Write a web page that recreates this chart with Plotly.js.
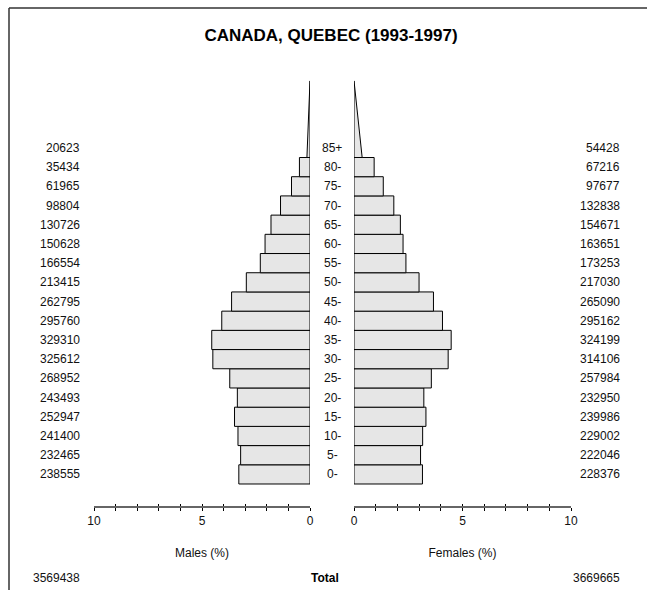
<!DOCTYPE html>
<html>
<head>
<meta charset="utf-8">
<script src="https://cdn.plot.ly/plotly-3.0.1.min.js"></script>
<style>html,body{margin:0;padding:0;background:#fff;}#chart{width:647px;height:590px;}</style>
</head>
<body>
<div id="chart"></div>
<script>
// ---- Data ----
var ageLabels = ['0-','5-','10-','15-','20-','25-','30-','35-','40-','45-','50-','55-','60-','65-','70-','75-','80-','85+'];
var ageStart  = [0,5,10,15,20,25,30,35,40,45,50,55,60,65,70,75,80,85];
var maleCounts   = [238555,232465,241400,252947,243493,268952,325612,329310,295760,262795,213415,166554,150628,130726,98804,61965,35434,20623];
var femaleCounts = [228376,222046,229002,239986,232950,257984,314106,324199,295162,265090,217030,173253,163651,154671,132838,97677,67216,54428];
var maleTotal = 3569438;
var femaleTotal = 3669665;
var chartTitle = 'CANADA, QUEBEC (1993-1997)';
var openAgeTop = 105;

// ---- Derived ----
var grand = maleTotal + femaleTotal;
var malePct = maleCounts.map(function(v){return v/grand*100;});
var femalePct = femaleCounts.map(function(v){return v/grand*100;});
var n = ageLabels.length;
var barY = ageStart.slice(0, n-1).map(function(a){return a+2.5;});
var W = 647, H = 590;
function px(x){return x/W;}
function py(y){return 1 - y/H;}

var FONT = 'Liberation Sans, Arial, Helvetica, sans-serif';
var barStyle = {color:'#e6e6e6', line:{color:'#000', width:1}};

var last = n-1;
var traces = [
  {type:'bar', orientation:'h', x: malePct.slice(0,last), y: barY, width:5,
   xaxis:'x', yaxis:'y', marker: barStyle, hoverinfo:'x+y', showlegend:false},
  {type:'bar', orientation:'h', x: femalePct.slice(0,last), y: barY, width:5,
   xaxis:'x2', yaxis:'y', marker: barStyle, hoverinfo:'x+y', showlegend:false},
  {type:'scatter', mode:'lines', fill:'toself', fillcolor:'#e6e6e6',
   x:[0, malePct[last]/2, 0, 0], y:[ageStart[last], ageStart[last], openAgeTop, ageStart[last]],
   xaxis:'x', yaxis:'y', line:{color:'#000', width:1}, showlegend:false, hoverinfo:'skip'},
  {type:'scatter', mode:'lines', fill:'toself', fillcolor:'#e6e6e6',
   x:[0, femalePct[last]/2, 0, 0], y:[ageStart[last], ageStart[last], openAgeTop, ageStart[last]],
   xaxis:'x2', yaxis:'y', line:{color:'#000', width:1}, showlegend:false, hoverinfo:'skip'}
];

var tickV = [0,1,2,3,4,5,6,7,8,9,10];
var tickT = tickV.map(function(v){return (v%5===0)? String(v) : '';});
function mainAxis(domain, range, title){
  return {domain: domain, range: range, anchor:'y', side:'bottom',
    tickmode:'array', tickvals: tickV, ticktext: tickT,
    ticks:'outside', ticklen:2.5, tickwidth:1, tickcolor:'#000',
    showline:true, linecolor:'#666', linewidth:2,
    showgrid:false, zeroline:false, fixedrange:true,
    tickfont:{family:FONT, size:12, color:'#111'},
    title:{text:title, font:{family:FONT, size:12, color:'#111'}, standoff:22}};
}
function overAxis(over, range){
  return {overlaying: over, range: range, anchor:'y', side:'bottom',
    tickmode:'array', tickvals: tickV, ticks:'inside', ticklen:2.5, tickwidth:1, tickcolor:'#000',
    showticklabels:false, showline:false, showgrid:false, zeroline:false, fixedrange:true};
}

var yBottomPx = 506, yTopPx = 80.7, age0Px = 484, age85Px = 157.5;
var pxPerYear = (age0Px - age85Px)/85;
var yMin = -(yBottomPx - age0Px)/pxPerYear;
var yMax = (age0Px - yTopPx)/pxPerYear;

var annotations = [];
for (var i=0;i<n;i++){
  var ym = ageStart[i]+2.5;
  annotations.push({xref:'paper', yref:'y', x:px(332), y:ym, text:ageLabels[i], showarrow:false,
    xanchor:'center', yanchor:'middle', font:{family:FONT, size:12, color:'#111'}});
  annotations.push({xref:'paper', yref:'y', x:px(82), y:ym, text:String(maleCounts[i]), showarrow:false,
    xanchor:'right', yanchor:'middle', font:{family:FONT, size:12, color:'#111'}});
  annotations.push({xref:'paper', yref:'y', x:px(622), y:ym, text:String(femaleCounts[i]), showarrow:false,
    xanchor:'right', yanchor:'middle', font:{family:FONT, size:12, color:'#111'}});
}
annotations.push({xref:'paper', yref:'paper', x:px(82), y:py(578), text:String(maleTotal), showarrow:false,
  xanchor:'right', yanchor:'middle', font:{family:FONT, size:12, color:'#111'}});
annotations.push({xref:'paper', yref:'paper', x:px(622), y:py(578), text:String(femaleTotal), showarrow:false,
  xanchor:'right', yanchor:'middle', font:{family:FONT, size:12, color:'#111'}});
annotations.push({xref:'paper', yref:'paper', x:px(325), y:py(578), text:'<b>Total</b>', showarrow:false,
  xanchor:'center', yanchor:'middle', font:{family:FONT, size:12, color:'#000'}});

var layout = {
  width: W, height: H,
  margin:{l:0, r:0, t:0, b:0, pad:0},
  paper_bgcolor:'#fff', plot_bgcolor:'rgba(0,0,0,0)',
  showlegend:false, barmode:'overlay', bargap:0,
  title:{text:'<b>'+chartTitle+'</b>', x:px(331), y:py(35), xanchor:'center', yanchor:'middle',
    font:{family:FONT, size:17, color:'#000'}},
  xaxis: mainAxis([px(94), px(310)], [10,0], 'Males (%)'),
  xaxis2: mainAxis([px(354), px(571)], [0,10], 'Females (%)'),
  xaxis3: overAxis('x', [10,0]),
  xaxis4: overAxis('x2', [0,10]),
  yaxis:{domain:[py(yBottomPx), py(yTopPx)], range:[yMin, yMax], showticklabels:false,
    showgrid:false, zeroline:false, showline:false, ticks:'', fixedrange:true},
  annotations: annotations,
  shapes:[
    {type:'line', xref:'paper', yref:'paper', x0:px(9), x1:1.01, y0:py(8), y1:py(8), line:{color:'#333', width:1.5}},
    {type:'line', xref:'paper', yref:'paper', x0:px(9), x1:px(9), y0:py(8), y1:-0.01, line:{color:'#333', width:1.5}}
  ]
};

// empty traces so the overlay tick axes render
traces.push({type:'scatter', x:[], y:[], xaxis:'x3', yaxis:'y', showlegend:false, hoverinfo:'skip'});
traces.push({type:'scatter', x:[], y:[], xaxis:'x4', yaxis:'y', showlegend:false, hoverinfo:'skip'});

Plotly.newPlot('chart', traces, layout, {staticPlot:true, displayModeBar:false});
</script>
</body>
</html>
